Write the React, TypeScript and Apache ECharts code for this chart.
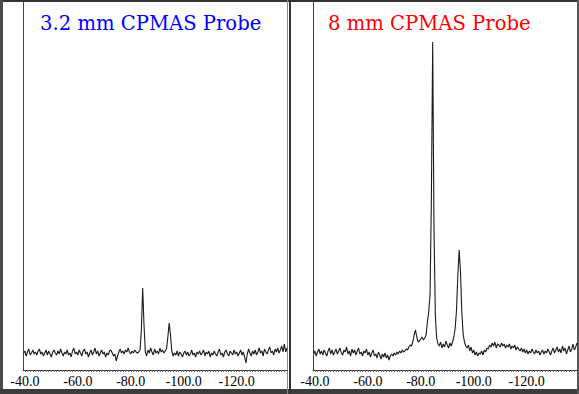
import React, { useEffect, useRef } from "react";
import * as echarts from "echarts";

// chemical-shift sampling grid (ppm)
const PPM_START = -39.5;
const PPM_STEP = 0.5;
const N_POINTS = 200;

const TICK_LABELS = [-40, -60, -80, -100, -120];

const TITLE_LEFT = "3.2 mm CPMAS Probe";
const TITLE_RIGHT = "8 mm CPMAS Probe";

// intensity (arbitrary units), 3.2 mm probe
const probe32 = [
  17, 19, 14, 18, 21, 15, 17, 20, 16, 18,
  15, 19, 21, 16, 18, 14, 17, 20, 15, 19,
  16, 13, 18, 20, 17, 15, 19, 16, 21, 17,
  14, 18, 16, 20, 15, 17, 13, 19, 22, 16,
  18, 15, 20, 17, 14, 19, 21, 16, 18, 13,
  17, 20, 15, 18, 22, 16, 19, 14, 17, 20,
  16, 18, 13, 17, 15, 19, 20, 17, 14, 16,
  9, 14, 18, 21, 17, 19, 16, 20, 18, 22,
  18, 16, 19, 17, 20, 18, 17, 18, 20, 40,
  82, 45, 18, 14, 20, 17, 22, 18, 15, 21,
  17, 19, 16, 22, 18, 20, 17, 19, 21, 33,
  47, 35, 19, 14, 17, 15, 19, 14, 18, 16,
  13, 17, 19, 15, 18, 14, 16, 20, 15, 17,
  13, 18, 16, 19, 15, 17, 20, 14, 18, 16,
  19, 13, 17, 15, 19, 16, 14, 18, 21, 15,
  17, 13, 18, 20, 16, 14, 19, 17, 15, 20,
  16, 18, 14, 17, 20, 15, 18, 13, 7, 16,
  21, 17, 14, 19, 16, 20, 15, 18, 22, 17,
  19, 14, 21, 18, 16, 20, 23, 17, 19, 15,
  21, 18, 22, 17, 20, 24, 18, 26, 18, 22,
];

// intensity (arbitrary units), 8 mm probe
const probe8 = [
  16, 19, 14, 18, 21, 16, 19, 15, 20, 17,
  14, 19, 22, 16, 20, 15, 18, 21, 16, 19,
  22, 17, 15, 20, 18, 23, 16, 19, 14, 21,
  17, 20, 15, 19, 22, 16, 18, 14, 19, 17,
  21, 15, 18, 13, 17, 20, 14, 16, 12, 18,
  15, 11, 16, 13, 17, 12, 15, 10, 14, 16,
  14, 17, 15, 18, 16, 19, 17, 20, 18, 19,
  21, 20, 23, 25, 24, 28, 35, 40, 33, 28,
  29, 31, 33, 30, 32, 35, 48, 58, 75, 170,
  328, 140, 55, 32, 26, 24, 28, 22, 26, 23,
  29, 25, 22, 27, 24, 28, 33, 42, 60, 95,
  120, 98, 58, 36, 28, 24, 22, 25, 19, 23,
  17, 20, 15, 18, 14, 17, 16, 19, 15, 20,
  18, 22, 21, 25, 23, 27, 24, 28, 22, 26,
  25, 23, 27, 24, 26, 22, 25, 23, 26, 21,
  24, 22, 25, 20, 23, 21, 19, 22, 18, 21,
  17, 20, 16, 19, 17, 21, 18, 16, 20, 17,
  19, 15, 18, 20, 16, 19, 17, 21, 18, 15,
  19, 22, 17, 20, 23, 18, 21, 17, 24, 19,
  22, 16, 20, 24, 18, 21, 26, 20, 23, 27,
];

const ppm = Array.from({ length: N_POINTS }, (_, i) => PPM_START - PPM_STEP * i);
const minorTicks: number[] = [];
for (let v = -40; v >= -138; v -= 1) minorTicks.push(v);

export default function App() {
  const ref = useRef<HTMLDivElement>(null);
  useEffect(() => {
    if (!ref.current) return;
    const chart = echarts.init(ref.current, undefined, { renderer: "svg" });
    const xAxisBase = (gridIndex: number) => ({
      type: "value" as const,
      gridIndex,
      inverse: true,
      min: -139,
      max: -39.3,
      axisLine: { show: true, lineStyle: { color: "#333", width: 1 } },
      axisTick: {
        show: true,
        customValues: minorTicks,
        length: 2,
        lineStyle: { color: "#666", width: 1 },
      },
      axisLabel: {
        show: true,
        customValues: TICK_LABELS,
        formatter: (v: number) => v.toFixed(1),
        fontFamily: "Liberation Serif",
        fontSize: 14,
        color: "#000",
        margin: 4,
      },
      splitLine: { show: false },
    });
    const yAxisBase = (gridIndex: number) => ({
      type: "value" as const,
      gridIndex,
      min: 0,
      max: 368,
      axisLine: { show: true, lineStyle: { color: "#444", width: 1 } },
      axisTick: { show: false },
      axisLabel: { show: false },
      splitLine: { show: false },
    });
    const seriesBase = (idx: number, vals: number[]) => ({
      type: "line" as const,
      xAxisIndex: idx,
      yAxisIndex: idx,
      data: ppm.map((p, i) => [p, vals[i]]),
      showSymbol: false,
      symbol: "none",
      lineStyle: { color: "#1a1a1a", width: 1.1 },
      silent: true,
    });
    chart.setOption({
      animation: false,
      backgroundColor: "#fff",
      grid: [
        { left: 23, top: 2, width: 264, height: 368 },
        { left: 313, top: 2, width: 264, height: 368 },
      ],
      xAxis: [xAxisBase(0), xAxisBase(1)],
      yAxis: [yAxisBase(0), yAxisBase(1)],
      series: [seriesBase(0, probe32), seriesBase(1, probe8)],
      graphic: [
        { type: "rect", shape: { x: 0, y: 0, width: 579, height: 2 }, style: { fill: "#333" } },
        { type: "rect", shape: { x: 0, y: 0, width: 3, height: 394 }, style: { fill: "#4a4a4a" } },
        { type: "rect", shape: { x: 0, y: 389, width: 579, height: 5 }, style: { fill: "#3c3c3c" } },
        { type: "rect", shape: { x: 577, y: 0, width: 2, height: 394 }, style: { fill: "#555" } },
        { type: "rect", shape: { x: 287, y: 0, width: 1, height: 394 }, style: { fill: "#888" } },
        { type: "rect", shape: { x: 289, y: 0, width: 2, height: 394 }, style: { fill: "#333" } },
        {
          type: "text",
          x: 40,
          y: 13,
          style: {
            text: TITLE_LEFT,
            fill: "#0000ff",
            font: "19.6px 'DejaVu Serif'",
            verticalAlign: "top",
          },
        },
        {
          type: "text",
          x: 328,
          y: 13,
          style: {
            text: TITLE_RIGHT,
            fill: "#ff0000",
            font: "19.6px 'DejaVu Serif'",
            verticalAlign: "top",
          },
        },
      ],
    });
    return () => chart.dispose();
  }, []);
  return (
    <div
      ref={ref}
      style={{ position: "fixed", left: 0, top: 0, width: 579, height: 394 }}
    />
  );
}
